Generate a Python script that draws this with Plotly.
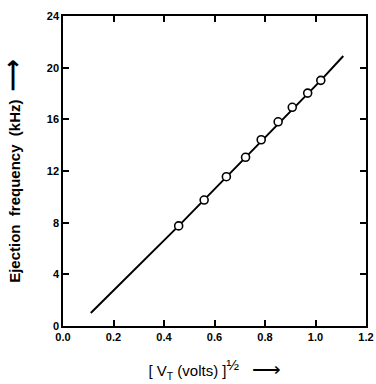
import plotly.graph_objects as go

# measured points
x_pts = [0.458, 0.559, 0.647, 0.723, 0.785, 0.852, 0.908, 0.969, 1.021]
y_pts = [7.75, 9.75, 11.56, 13.06, 14.42, 15.81, 16.93, 18.03, 19.02]

# fitted line
x_line = [0.11, 0.458, 1.021, 1.11]
y_line = [1.0, 7.75, 19.02, 20.9]

x_ticks = [0.0, 0.2, 0.4, 0.6, 0.8, 1.0, 1.2]
x_ticklabels = ["0.0", "0.2", "0.4", "0.6", "0.8", "1.0", "1.2"]
y_ticks = [0, 4, 8, 12, 16, 20, 24]

fig = go.Figure()
fig.add_trace(go.Scatter(x=x_line, y=y_line, mode="lines",
                         line=dict(color="black", width=2), showlegend=False))
fig.add_trace(go.Scatter(x=x_pts, y=y_pts, mode="markers",
                         marker=dict(symbol="circle", size=8, color="white",
                                     line=dict(color="black", width=1.6)),
                         showlegend=False))

font_t = dict(family="Liberation Sans, Arial", size=11, color="black", weight="bold")
fig.update_layout(
    width=376, height=384,
    margin=dict(l=63, r=10, t=16, b=58),
    plot_bgcolor="white", paper_bgcolor="white",
    xaxis=dict(range=[0, 1.2], tickvals=x_ticks, ticktext=x_ticklabels,
               ticks="inside", ticklen=6, tickwidth=1.5, tickcolor="black",
               showline=True, linecolor="black", linewidth=1.5, mirror="ticks",
               showgrid=False, zeroline=False, tickfont=font_t, automargin=False,
               title=dict(text="[ V<sub>T</sub> (volts) ]<sup><span style='font-size:15px'>½</span></sup>   <span style='font-size:20px'>⟶</span>",
                          font=dict(family="Liberation Sans, Arial", size=15, color="black"),
                          standoff=24)),
    yaxis=dict(range=[0, 24], tickvals=y_ticks,
               ticks="inside", ticklen=6, tickwidth=1.5, tickcolor="black",
               showline=True, linecolor="black", linewidth=1.5, mirror="ticks",
               showgrid=False, zeroline=False, tickfont=font_t, automargin=False,
               title=dict(text="Ejection  frequency  (kHz)  <span style='font-size:22px'>⟶</span>",
                          font=dict(family="Liberation Sans, Arial", size=15, color="black", weight="bold"),
                          standoff=24)),
)
fig.write_html("out.html", config={"displayModeBar": False},
               post_script="document.body.style.margin='0';document.body.style.overflow='hidden';document.documentElement.style.overflow='hidden';")
